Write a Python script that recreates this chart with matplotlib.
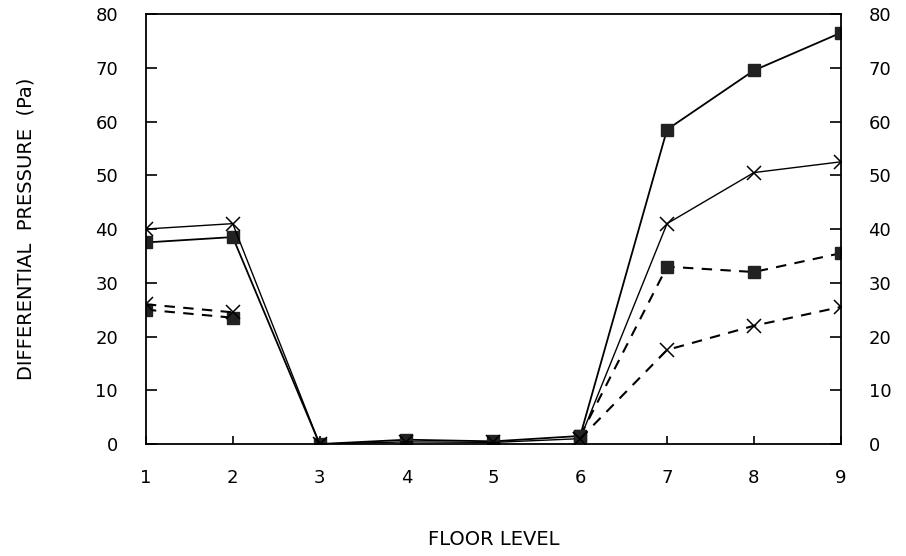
import matplotlib
matplotlib.use("Agg")
import matplotlib.pyplot as plt
import numpy as np

floors = [1, 2, 3, 4, 5, 6, 7, 8, 9]
solid_square = [37.5, 38.5, 0.0, 0.8, 0.5, 1.5, 58.5, 69.5, 76.5]
solid_cross = [40.0, 41.0, 0.0, 0.4, 0.3, 1.0, 41.0, 50.5, 52.5]
dashed_square = [25.0, 23.5, np.nan, np.nan, np.nan, 1.5, 33.0, 32.0, 35.5]
dashed_cross = [26.0, 24.5, np.nan, np.nan, np.nan, 1.0, 17.5, 22.0, 25.5]
y_ticks = [0, 10, 20, 30, 40, 50, 60, 70, 80]

plt.rcParams["font.family"] = "DejaVu Sans"

fig = plt.figure(figsize=(9.06, 5.56), dpi=100)
ax = fig.add_axes([0.161, 0.2014, 0.767, 0.7734])

ax.plot(floors, solid_square, "-", color="black", lw=1.3,
        marker="s", ms=8, mfc="#222222", mec="#222222")
ax.plot(floors, solid_cross, "-", color="black", lw=1.0,
        marker="x", ms=10, mew=1.1)
ax.plot(floors, dashed_square, "--", color="black", lw=1.5, dashes=(5, 4),
        marker="s", ms=8, mfc="#222222", mec="#222222")
ax.plot(floors, dashed_cross, "--", color="black", lw=1.5, dashes=(5, 4),
        marker="x", ms=10, mew=1.1)

ax.set_xlim(1, 9)
ax.set_ylim(0, 80)
ax.set_xticks(floors)
ax.set_yticks(y_ticks)
for s in ax.spines.values():
    s.set_linewidth(1.3)

ax.tick_params(axis="x", direction="in", length=6, width=1.2, pad=18, labelsize=13)
ax.tick_params(axis="y", direction="in", length=8, width=1.2, pad=20, labelsize=13,
               left=True, right=True, labelleft=True, labelright=True)

ax.set_xlabel("FLOOR LEVEL", fontsize=14)
ax.set_ylabel("DIFFERENTIAL  PRESSURE  (Pa)", fontsize=14, labelpad=43)
ax.xaxis.set_label_coords(0.5, -0.2)

fig.savefig("out.png", dpi=100)
